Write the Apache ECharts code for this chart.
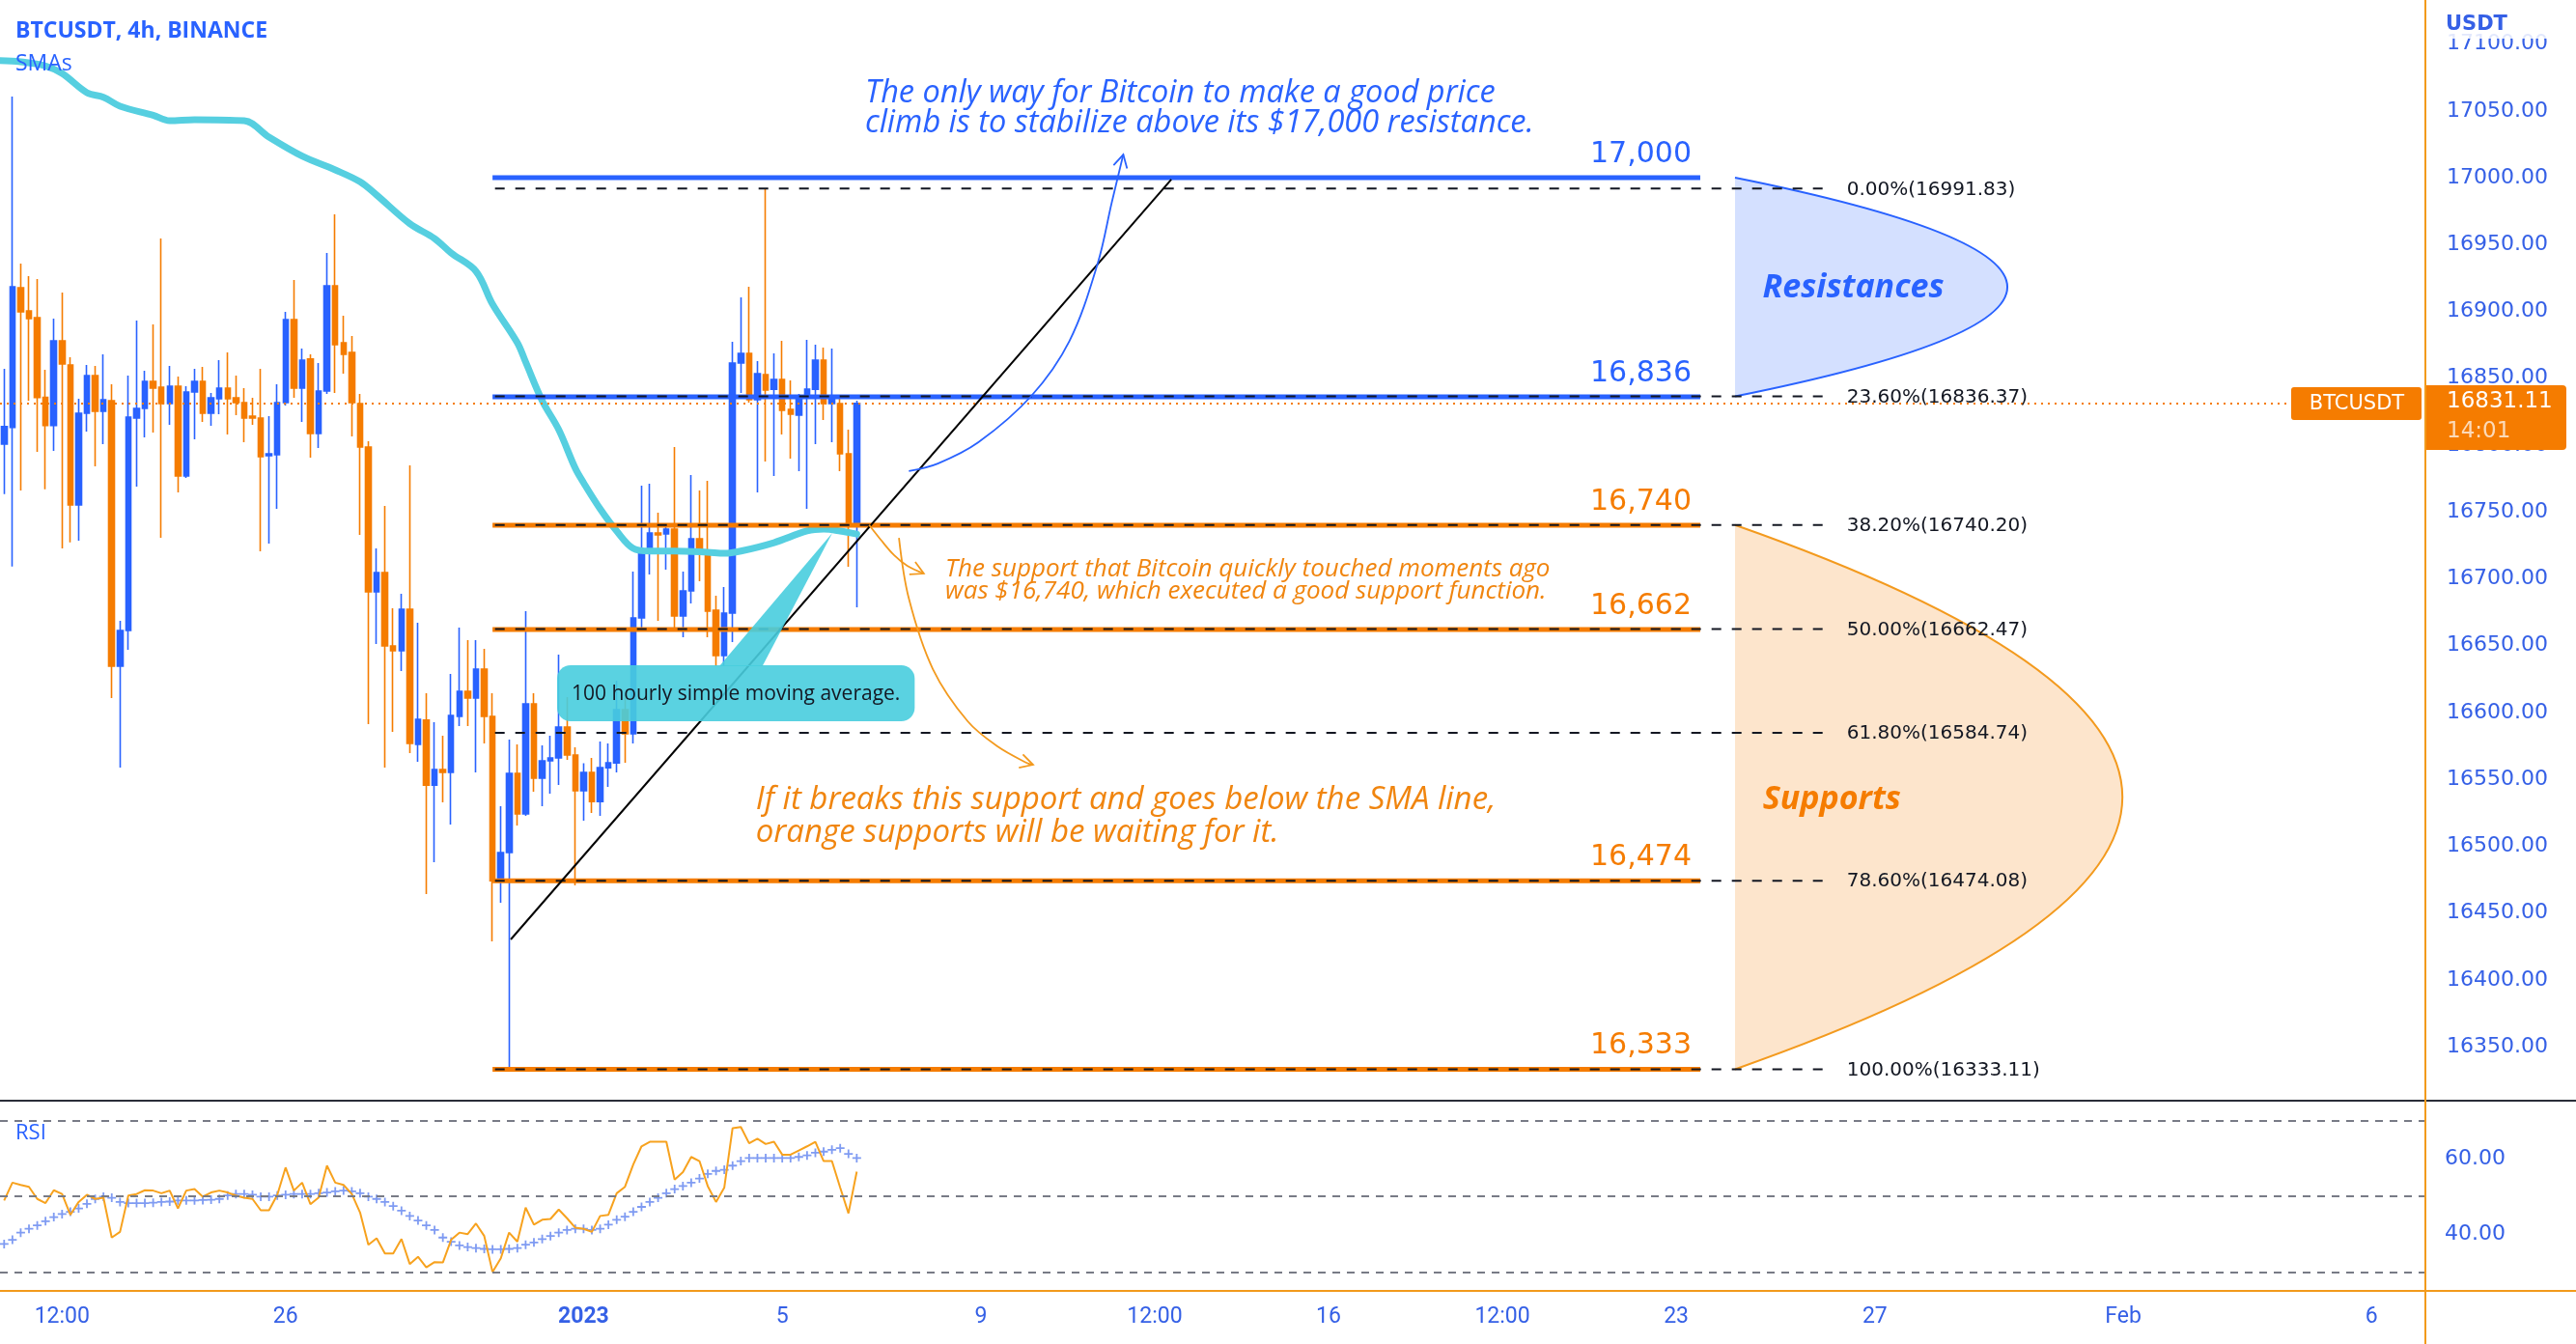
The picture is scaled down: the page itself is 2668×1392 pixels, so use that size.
<!DOCTYPE html>
<html><head><meta charset="utf-8">
<script src="https://cdn.jsdelivr.net/npm/echarts@6/dist/echarts.min.js"></script>
<style>html,body{margin:0;padding:0;background:#fff}#c{width:2668px;height:1392px}</style>
</head><body><div id="c"></div><script>
// ---------- DATA (4h candles, slot index = position on the time axis) ----------
const opens = [16800.7,16813.2,16917.7,16900.4,16895.3,16835.6,16814.6,16878.0,16859.9,16755.2,
16823.8,16852.0,16825.2,16833.2,16634.6,16661.3,16820.2,16827.4,16847.6,16843.3,
16831.0,16844.0,16776.9,16839.7,16847.6,16823.8,16834.6,16842.6,16835.3,16831.7,
16821.6,16820.2,16792.0,16792.7,16831.7,16893.9,16842.6,16864.3,16808.6,16840.4,
16919.1,16876.5,16869.3,16831.0,16798.5,16690.2,16704.6,16649.8,16646.2,16677.2,
16576.1,16594.2,16545.7,16557.3,16555.1,16597.0,16615.8,16610.8,16632.4,16597.0,
16474.2,16495.2,16554.4,16524.1,16606.4,16550.8,16563.8,16566.0,16589.1,16568.1,
16541.4,16555.1,16533.4,16558.7,16562.3,16602.1,16584.0,16670.7,16719.8,16734.2,
16733.5,16737.1,16672.1,16690.9,16729.9,16720.5,16676.5,16642.5,16674.3,16861.4,
16868.6,16833.9,16852.7,16841.8,16849.1,16826.7,16822.4,16835.3,16841.8,16863.5,
16831.0,16831.0,16793.5,16739.3];
const closes = [16813.9,16918.4,16899.6,16894.6,16835.6,16814.6,16878.0,16860.6,16755.2,16823.8,
16852.0,16825.2,16833.9,16634.6,16661.3,16820.9,16827.4,16847.6,16842.6,16831.0,
16844.0,16776.9,16839.7,16847.6,16823.8,16835.3,16842.6,16834.6,16831.7,16820.2,
16820.2,16791.3,16793.5,16831.7,16893.9,16842.6,16863.5,16808.6,16840.4,16919.1,
16875.1,16867.9,16831.7,16798.5,16690.2,16704.6,16649.8,16646.2,16677.2,16576.8,
16594.9,16545.7,16557.3,16555.1,16597.7,16615.8,16610.8,16632.4,16597.0,16474.2,
16495.2,16554.4,16524.1,16606.4,16550.8,16563.8,16566.0,16589.1,16568.1,16541.4,
16555.1,16533.4,16558.7,16562.3,16602.1,16584.0,16670.7,16719.8,16734.2,16732.8,
16737.1,16672.1,16690.9,16729.9,16720.5,16675.7,16642.5,16674.3,16861.4,16868.6,
16833.9,16853.4,16841.1,16849.1,16826.0,16823.1,16835.3,16841.8,16863.5,16831.0,
16835.3,16793.5,16739.3,16831.11];
const highs = [16857.0,17060.7,16935.7,16926.4,16924.2,16856.3,16894.6,16914.1,16865.7,16834.6,
16859.9,16859.2,16867.9,16845.5,16668.5,16852.0,16893.1,16855.6,16890.3,16954.5,
16859.2,16851.3,16844.0,16857.0,16858.5,16839.0,16863.5,16869.3,16852.0,16842.6,
16835.3,16857.0,16821.6,16845.5,16899.6,16923.5,16872.2,16867.9,16861.4,16943.7,
16972.6,16896.8,16881.6,16838.2,16802.8,16722.7,16754.5,16677.9,16688.8,16784.8,
16667.1,16614.4,16592.7,16582.6,16628.8,16663.5,16654.1,16654.1,16647.6,16614.4,
16529.9,16579.7,16576.1,16675.7,16614.4,16575.4,16582.6,16643.3,16611.5,16573.9,
16562.0,16566.0,16578.2,16576.8,16623.7,16612.9,16705.3,16769.6,16771.1,16749.4,
16739.3,16798.5,16705.3,16777.6,16766.0,16773.2,16687.3,16693.8,16877.3,16910.5,
16918.4,16862.8,16991.83,16868.6,16878.0,16848.3,16838.2,16878.7,16875.1,16872.9,
16872.2,16836.8,16811.5,16833.2];
const lows = [16763.4,16709.2,16766.0,16833.2,16794.9,16767.0,16795.6,16722.7,16727.2,16728.5,
16810.1,16784.1,16800.7,16610.8,16558.7,16646.9,16768.9,16805.7,16809.4,16730.6,
16815.1,16764.6,16775.4,16804.3,16817.3,16814.4,16823.1,16807.9,16822.4,16802.1,
16815.1,16720.5,16726.3,16752.3,16829.6,16835.3,16817.3,16790.6,16797.8,16838.2,
16839.0,16853.4,16806.5,16732.8,16591.3,16651.2,16558.7,16585.5,16631.0,16569.6,
16563.1,16464.1,16488.0,16532.7,16516.1,16589.8,16589.8,16555.1,16576.8,16428.8,
16457.6,16333.11,16515.4,16522.6,16540.7,16529.9,16539.2,16545.7,16564.5,16470.6,
16519.0,16524.8,16522.6,16544.3,16555.1,16562.3,16576.8,16663.5,16703.2,16668.5,
16706.8,16663.5,16656.3,16681.5,16698.1,16656.3,16634.6,16634.6,16652.6,16839.0,
16831.7,16764.6,16787.7,16776.9,16807.9,16789.9,16780.5,16752.3,16800.7,16818.7,
16802.1,16780.5,16709.0,16678.6];
const smaSlots  = [-0.5,2,5,7,10,12,14,18,20,23,29,32,36,40,43,45,49,52,54,57,59,62,63,65,67,69,70,72,74,76,78,81,85,87,89,93,97,99,101,103];
const smaValues = [17087.6,17086.7,17083.6,17078.0,17063.6,17060.2,17053.5,17046.7,17042.6,17043.4,17042.6,17030.3,17016.1,17005.8,16996.9,16987.0,16965.6,16954.5,16943.7,16930.0,16905.4,16876.5,16862.1,16833.2,16811.5,16782.6,16771.8,16752.3,16735.7,16722.7,16720.7,16720.7,16719.8,16719.0,16720.7,16727.0,16735.7,16737.1,16735.7,16733.4];
const rsi = [48.9,53.6,53.0,52.5,49.3,48.2,51.6,50.6,45.1,48.5,
50.4,49.3,49.6,39.1,40.6,50.2,50.6,51.6,51.5,50.8,
51.5,46.8,51.5,51.9,49.9,51.0,51.5,51.0,50.2,49.6,
49.3,46.3,46.3,50.4,57.6,51.5,53.6,47.9,49.7,58.1,
53.6,53.0,50.6,45.7,37.2,38.9,34.9,34.9,38.7,32.1,
34.0,31.2,32.6,32.5,38.5,40.4,40.0,42.8,39.5,30.0,
33.6,40.4,38.0,47.0,42.5,43.8,44.0,46.5,44.2,41.7,
41.4,40.6,44.8,45.1,50.8,52.5,58.4,63.2,64.4,64.4,
64.4,54.4,56.4,60.4,59.3,52.7,48.5,52.3,68.0,68.3,
64.0,65.2,63.8,64.4,61.0,61.0,62.1,63.2,64.4,59.3,
59.3,52.3,45.5,56.5];
const rsiMA = [37.4,38.5,40.4,41.4,42.3,43.4,44.5,45.3,45.9,46.8,
48.0,49.3,49.9,49.6,48.5,48.2,48.2,48.2,48.3,48.5,
48.6,48.9,48.9,48.9,49.0,49.1,49.3,50.2,50.6,50.6,
50.4,49.9,49.9,50.2,50.4,50.6,50.6,50.6,50.8,51.0,
51.3,51.5,51.3,50.8,49.9,49.3,48.5,47.4,46.2,44.8,
43.6,42.3,41.1,39.1,38.0,37.0,36.6,36.3,36.1,36.0,
36.0,36.1,36.3,37.2,37.8,38.7,39.5,40.4,41.1,41.4,
41.4,41.1,41.4,42.5,43.8,44.6,45.9,47.2,48.5,49.6,
50.8,51.9,52.7,53.6,54.7,55.9,56.7,57.0,58.1,59.3,
60.1,60.1,60.1,60.1,60.1,60.1,60.4,60.8,61.5,61.8,
62.3,62.7,61.2,60.1];
const lastPrice = 16831.11;
const timeTickSlots  = [7,34,70,94,118,139,160,181,202,226,256,286];
const timeTickLabels = ['12:00','26','2023','5','9','12:00','16','12:00','23','27','Feb','6'];
const priceTicks = [16350,16400,16450,16500,16550,16600,16650,16700,16750,16800,16850,16900,16950,17000,17050,17100];
const rsiTicks = [40,60];
const rsiBands = [70,50,30];
// drawn levels
const levels = [17000,16836,16740,16662,16474,16333];
const levelLabels = ['17,000','16,836','16,740','16,662','16,474','16,333'];
const levelKinds = ['res','res','sup','sup','sup','sup'];
const fibLevels = [16991.83,16836.37,16740.20,16662.47,16584.74,16474.08,16333.11];
const fibPct = ['0.00%','23.60%','38.20%','50.00%','61.80%','78.60%','100.00%'];
const levelSpan = [59,204.9];      // slots
const fibSpan = [59.3,220.5];
const fibLabelSlot = 222.6;
const levelLabelSlot = 203.85;
const trendLine = [[61.2,16430.2],[141.0,16998.6]];
const blueArrow = [[109.3,16780.5],[112.8,16786.2],[117.7,16802.1],[124.1,16836.8],[128.7,16877.9],[132.1,16935.7],[133.8,16981.2],[135.2,17017.3]];
const orangeArrowA = [[104.5,16740.2],[105.9,16729.2],[107.5,16717.7],[109.1,16709.7],[111.1,16703.9]];
const orangeArrowB = [[108.1,16730.6],[109.3,16685.1],[112.2,16632.4],[116.4,16593.4],[120.0,16574.6],[123.5,16562.4],[124.3,16560.9]];
const resZone = {left:209.1, tip:242.0, top:17000, bottom:16836.37};
const supZone = {left:209.1, tip:255.9, top:16740.20, bottom:16333.11};
const resLabel = [223.4,16917.7], supLabel = [220.8,16534.9];
const smaBox = {x0:66.8, x1:110.0, top:16635.3, bottom:16593.4, base0:86.4, base1:91.6, tip:[100.05,16734.2]};
const note1 = {slot:104.0, price:17051.6, text:'The only way for Bitcoin to make a good price\nclimb is to stabilize above its $17,000 resistance.'};
const note2 = {slot:113.7, price:16698.5, text:'The support that Bitcoin quickly touched moments ago\nwas $16,740, which executed a good support function.'};
const note3 = {slot:90.8, price:16522.2, text:'If it breaks this support and goes below the SMA line,\norange supports will be waiting for it.'};

// ---------- STYLE ----------
const BLUE = '#2962ff', ORANGE = '#f57c00', NOTE_OR = '#f0850f', AXIS_OR = '#f29a1c', CYAN = '#56cfe0';
const LBL = '#3560e6';

const chart = echarts.init(document.getElementById('c'), null, {renderer:'canvas'});

function arrowHead(tip, prev, color, len, lw) {
  const ang = Math.atan2(tip[1]-prev[1], tip[0]-prev[0]);
  const a1 = ang + Math.PI - 0.5, a2 = ang + Math.PI + 0.5;
  return {type:'polyline', shape:{points:[[tip[0]+len*Math.cos(a1), tip[1]+len*Math.sin(a1)], tip, [tip[0]+len*Math.cos(a2), tip[1]+len*Math.sin(a2)]]},
    style:{stroke:color, lineWidth:lw, fill:'none'}};
}

function renderAnnotations(params, api) {
  const P = (x, y) => api.coord([x, y]);
  const cs = params.coordSys;
  const ch = [];
  // zones
  [[resZone, 'rgba(41,98,255,0.2)', BLUE], [supZone, 'rgba(245,124,0,0.2)', '#f39a1e']].forEach(([z, fill, stroke]) => {
    const a = P(z.left, z.top), b = P(z.left, z.bottom);
    const mid = (z.top + z.bottom) / 2;
    const c = P(2 * z.tip - z.left, mid);
    const d = `M${a[0]} ${a[1]} Q${c[0]} ${c[1]} ${b[0]} ${b[1]}`;
    ch.push({type:'path', shape:{pathData: d + ' Z'}, style:{fill: fill, stroke: null}});
    ch.push({type:'path', shape:{pathData: d}, style:{fill:'none', stroke: stroke, lineWidth: 2}});
  });
  // level lines
  levels.forEach((lv, i) => {
    const a = P(levelSpan[0], lv), b = P(levelSpan[1], lv);
    ch.push({type:'line', shape:{x1:a[0], y1:a[1], x2:b[0], y2:b[1]}, style:{stroke: levelKinds[i]==='res'?BLUE:ORANGE, lineWidth:5}});
    const t = P(levelLabelSlot, lv);
    ch.push({type:'text', x:t[0], y:t[1]-9, style:{text: levelLabels[i], fill: levelKinds[i]==='res'?BLUE:ORANGE,
      font:'30px "DejaVu Sans"', align:'right', verticalAlign:'bottom'}});
  });
  // fib dashed lines + labels
  fibLevels.forEach((f, i) => {
    const a = P(fibSpan[0], f), b = P(fibSpan[1], f);
    ch.push({type:'line', shape:{x1:a[0], y1:a[1], x2:b[0], y2:b[1]}, style:{stroke:'#131722', lineWidth:2, lineDash:[10,11]}});
    const t = P(fibLabelSlot, f);
    ch.push({type:'text', x:t[0], y:t[1]+1, style:{text: fibPct[i] + '(' + f.toFixed(2) + ')', fill:'#131722',
      font:'20px "DejaVu Sans"', align:'left', verticalAlign:'middle'}});
  });
  // trend line
  const t0 = P(trendLine[0][0], trendLine[0][1]), t1 = P(trendLine[1][0], trendLine[1][1]);
  ch.push({type:'line', shape:{x1:t0[0], y1:t0[1], x2:t1[0], y2:t1[1]}, style:{stroke:'#000', lineWidth:2}});
  // curved arrows
  [[blueArrow, BLUE], [orangeArrowA, '#f39a1e'], [orangeArrowB, '#f39a1e']].forEach(([pts, col]) => {
    const px = pts.map(p => P(p[0], p[1]));
    ch.push({type:'polyline', shape:{points:px, smooth:0.35}, style:{stroke:col, lineWidth:1.8, fill:'none'}});
    ch.push(arrowHead(px[px.length-1], px[px.length-2], col, 15, 1.8));
  });
  // SMA callout
  const b0 = P(smaBox.x0, smaBox.top), b1 = P(smaBox.x1, smaBox.bottom);
  const w0 = P(smaBox.base0, smaBox.top), w1 = P(smaBox.base1, smaBox.top), wt = P(smaBox.tip[0], smaBox.tip[1]);
  const cyanFill = 'rgba(72,205,222,0.9)';
  ch.push({type:'polygon', shape:{points:[[w0[0], w0[1]+1],[w1[0], w1[1]+1], wt]}, style:{fill:cyanFill}});
  ch.push({type:'rect', shape:{x:b0[0], y:b0[1], width:b1[0]-b0[0], height:b1[1]-b0[1], r:14}, style:{fill:cyanFill}});
  ch.push({type:'text', x:(b0[0]+b1[0])/2, y:(b0[1]+b1[1])/2 + 1, style:{text:'100 hourly simple moving average.', fill:'#131722',
    font:'21px "Open Sans"', align:'center', verticalAlign:'middle'}});
  // zone labels
  const rl = P(resLabel[0], resLabel[1]), sl = P(supLabel[0], supLabel[1]);
  ch.push({type:'text', x:rl[0], y:rl[1], style:{text:'Resistances', fill:BLUE, font:'italic bold 34px "Open Sans"', align:'center', verticalAlign:'middle'}});
  ch.push({type:'text', x:sl[0], y:sl[1], style:{text:'Supports', fill:ORANGE, font:'italic bold 34px "Open Sans"', align:'center', verticalAlign:'middle'}});
  // notes
  [[note1, BLUE, 32.5, 31], [note2, NOTE_OR, 26, 23], [note3, NOTE_OR, 33, 34]].forEach(([n, col, fs, lh]) => {
    const p = P(n.slot, n.price);
    ch.push({type:'text', x:p[0], y:p[1], style:{text:n.text, fill:col, font:'italic ' + fs + 'px "Open Sans"', lineHeight:lh,
      align:'left', verticalAlign:'middle'}});
  });
  // last price tags on the price scale
  const lp = P(0, lastPrice);
  const right = cs.x + cs.width;
  ch.push({type:'rect', shape:{x:right, y:lp[1]-19, width:146, height:67, r:[0,4,4,0]}, style:{fill:ORANGE}});
  ch.push({type:'text', x:right+22, y:lp[1]-2, style:{text: lastPrice.toFixed(2), fill:'#fff', font:'23px "DejaVu Sans"', align:'left', verticalAlign:'middle'}});
  ch.push({type:'text', x:right+22, y:lp[1]+29, style:{text:'14:01', fill:'rgba(255,255,255,0.72)', font:'23px "DejaVu Sans"', align:'left', verticalAlign:'middle'}});
  ch.push({type:'rect', shape:{x:right-139, y:lp[1]-17, width:135, height:34, r:3}, style:{fill:ORANGE}});
  ch.push({type:'text', x:right-71, y:lp[1]+1, style:{text:'BTCUSDT', fill:'#fff', font:'21px "DejaVu Sans"', align:'center', verticalAlign:'middle'}});
  return {type:'group', children: ch};
}

const option = {
  animation: false,
  backgroundColor: '#ffffff',
  textStyle: {fontFamily: 'Roboto'},
  grid: [
    {left: 0, top: 0, width: 2512, height: 1140},
    {left: 0, top: 1141, width: 2512, height: 196}
  ],
  xAxis: [
    {type:'value', gridIndex:0, min:-0.5, max:292.5, show:false},
    {type:'value', gridIndex:1, min:-0.5, max:292.5,
      axisLine:{show:false}, axisTick:{show:false}, splitLine:{show:false},
      axisLabel:{customValues: timeTickSlots, margin: 16, color: LBL, fontSize: 23, fontFamily:'Roboto',
        formatter: v => { const i = timeTickSlots.indexOf(Math.round(v)); const t = i >= 0 ? timeTickLabels[i] : ''; return t === '2023' ? '{b|2023}' : t; },
        rich: {b: {fontWeight:'bold', color: LBL, fontSize: 23, fontFamily:'Roboto'}}}}
  ],
  yAxis: [
    {type:'value', gridIndex:0, position:'right', min:16309.6, max:17132.9,
      axisLine:{show:false}, axisTick:{show:false}, splitLine:{show:false},
      axisLabel:{customValues: priceTicks, margin: 22, color: LBL, fontSize: 22, fontFamily:'"DejaVu Sans"', formatter: v => v.toFixed(2)}},
    {type:'value', gridIndex:1, position:'right', min:25, max:75,
      axisLine:{show:false}, splitLine:{show:false},
      axisTick:{show:true, inside:true, length:6, customValues: rsiBands, lineStyle:{color:'#131722', width:1.5}},
      axisLabel:{customValues: rsiTicks, margin: 20, color: LBL, fontSize: 22, fontFamily:'"DejaVu Sans"', formatter: v => v.toFixed(2)}}
  ],
  series: [
    {type:'candlestick', xAxisIndex:0, yAxisIndex:0, z:3,
      dimensions:['slot','open','close','low','high'],
      encode:{x:'slot', y:['open','close','low','high']},
      data: opens.map((o, i) => [i, o, closes[i], lows[i], highs[i]]),
      barWidth: 6,
      itemStyle:{color:BLUE, color0:ORANGE, borderColor:BLUE, borderColor0:ORANGE, borderWidth:1.6},
      markLine:{silent:true, symbol:'none', animation:false, label:{show:false},
        lineStyle:{color:ORANGE, type:[2,5], width:2}, data:[{yAxis: lastPrice}]}},
    {type:'line', xAxisIndex:0, yAxisIndex:0, z:4, smooth:0.35, showSymbol:false, symbol:'none',
      data: smaSlots.map((s, i) => [s, smaValues[i]]),
      lineStyle:{color:CYAN, width:7, cap:'round', join:'round'}},
    {type:'custom', xAxisIndex:0, yAxisIndex:0, z:10, silent:true, clip:false,
      data:[[0, 17000]], renderItem: renderAnnotations},
    {type:'line', xAxisIndex:1, yAxisIndex:1, z:4, showSymbol:false, symbol:'none',
      data: rsi.map((v, i) => [i, v]),
      lineStyle:{color:'#f7a21e', width:2},
      markLine:{silent:true, symbol:'none', animation:false, label:{show:false},
        lineStyle:{color:'#787b86', type:[8,7], width:2}, data: rsiBands.map(v => ({yAxis: v}))}},
    {type:'line', xAxisIndex:1, yAxisIndex:1, z:3, showSymbol:true,
      symbol:'path://M4 0H6V4H10V6H6V10H4V6H0V4H4Z', symbolSize:9,
      itemStyle:{color:'#7f9bf2'}, lineStyle:{width:0, opacity:0},
      data: rsiMA.map((v, i) => [i, v])}
  ],
  graphic: [
    {type:'rect', z:50, shape:{x:2514, y:0, width:154, height:40}, style:{fill:'rgba(255,255,255,0.85)'}},
    {type:'text', z:51, x:2533, y:26, style:{text:'USDT', fill:LBL, font:'bold 21px "DejaVu Sans"', verticalAlign:'middle'}},
    {type:'text', z:51, x:16, y:32, style:{text:'BTCUSDT, 4h, BINANCE', fill:BLUE, font:'bold 23px "Open Sans"', verticalAlign:'middle'}},
    {type:'text', z:51, x:16, y:66, style:{text:'SMAs', fill:BLUE, font:'23px "Open Sans"', verticalAlign:'middle'}},
    {type:'text', z:51, x:16, y:1174, style:{text:'RSI', fill:BLUE, font:'22px "Open Sans"', verticalAlign:'middle'}},
    {type:'line', z:52, shape:{x1:0, y1:1140, x2:2668, y2:1140}, style:{stroke:'#2a2e39', lineWidth:2}},
    {type:'line', z:52, shape:{x1:0, y1:1337, x2:2668, y2:1337}, style:{stroke:AXIS_OR, lineWidth:2}},
    {type:'line', z:52, shape:{x1:2512, y1:0, x2:2512, y2:1392}, style:{stroke:AXIS_OR, lineWidth:2}}
  ]
};
chart.setOption(option);
</script></body></html>
